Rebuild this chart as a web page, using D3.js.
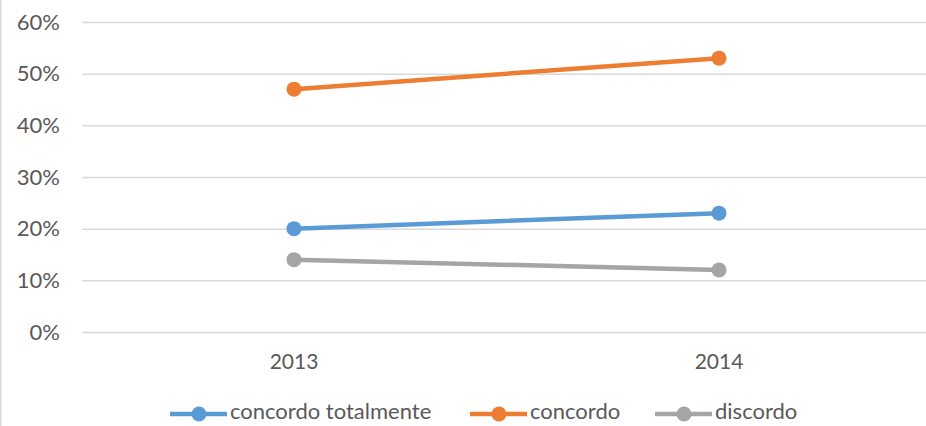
<!DOCTYPE html>
<html><head><meta charset="utf-8">
<script src="https://cdn.jsdelivr.net/npm/d3@7"></script>
<style>body{margin:0;background:#fff}svg{display:block}text{font-family:Lato,"Open Sans",sans-serif;fill:#595959}</style>
</head><body><svg id="c" width="926" height="426"></svg>
<script>
const categories = ["2013", "2014"];
const seriesNames = ["concordo totalmente", "concordo", "discordo"];
const concordoTotalmente = [0.20, 0.23];
const concordo = [0.47, 0.53];
const discordo = [0.14, 0.12];
const yTicks = [0, 0.1, 0.2, 0.3, 0.4, 0.5, 0.6];
const colors = ["#5B9BD5", "#ED7D31", "#A5A5A5"];

const series = [concordoTotalmente, concordo, discordo].map((v, i) => ({name: seriesNames[i], values: v, color: colors[i]}));

const svg = d3.select("#c");
svg.append("rect").attr("x", 0.75).attr("y", -2).attr("width", 940).attr("height", 440)
  .attr("fill", "none").attr("stroke", "#D9D9D9").attr("stroke-width", 1.5);

const x = d3.scaleBand().domain(categories).range([81.5, 931.5]);
const y = d3.scaleLinear().domain([0, 0.6]).range([332, 22]);

const yAxis = svg.append("g").attr("transform", "translate(82,0)")
  .call(d3.axisLeft(y).tickValues(yTicks).tickFormat(d3.format(".0%")).tickSize(-850).tickPadding(22));
yAxis.select(".domain").remove();
yAxis.selectAll("line").attr("stroke", "#D9D9D9").attr("stroke-width", 1.5);
yAxis.selectAll("text").attr("font-size", 22).style("fill", "#595959").style("font-family", "Lato");

const xAxis = svg.append("g").attr("transform", "translate(0,332)")
  .call(d3.axisBottom(x).tickSize(0).tickPadding(22));
xAxis.select(".domain").remove();
xAxis.selectAll("text").attr("font-size", 21).style("fill", "#595959").style("font-family", "Lato");

const line = d3.line().x((d, i) => x(categories[i]) + x.bandwidth() / 2).y(d => y(d));
series.forEach(s => {
  svg.append("path").datum(s.values).attr("d", line).attr("fill", "none")
    .attr("stroke", s.color).attr("stroke-width", 4.5).attr("stroke-linecap", "round");
  svg.selectAll(null).data(s.values).enter().append("circle")
    .attr("cx", (d, i) => x(categories[i]) + x.bandwidth() / 2).attr("cy", d => y(d))
    .attr("r", 7.5).attr("fill", s.color);
});

const legendX = [170, 470, 655];
const lg = svg.append("g");
series.forEach((s, i) => {
  const g = lg.append("g").attr("transform", `translate(${legendX[i]},414)`);
  g.append("line").attr("x1", 0).attr("x2", 57).attr("stroke", s.color).attr("stroke-width", 4.5);
  g.append("circle").attr("cx", 29).attr("r", 7.5).attr("fill", s.color);
  g.append("text").attr("x", 60).attr("y", -3).attr("dy", "0.35em").attr("font-size", 22).text(s.name);
});
</script></body></html>
